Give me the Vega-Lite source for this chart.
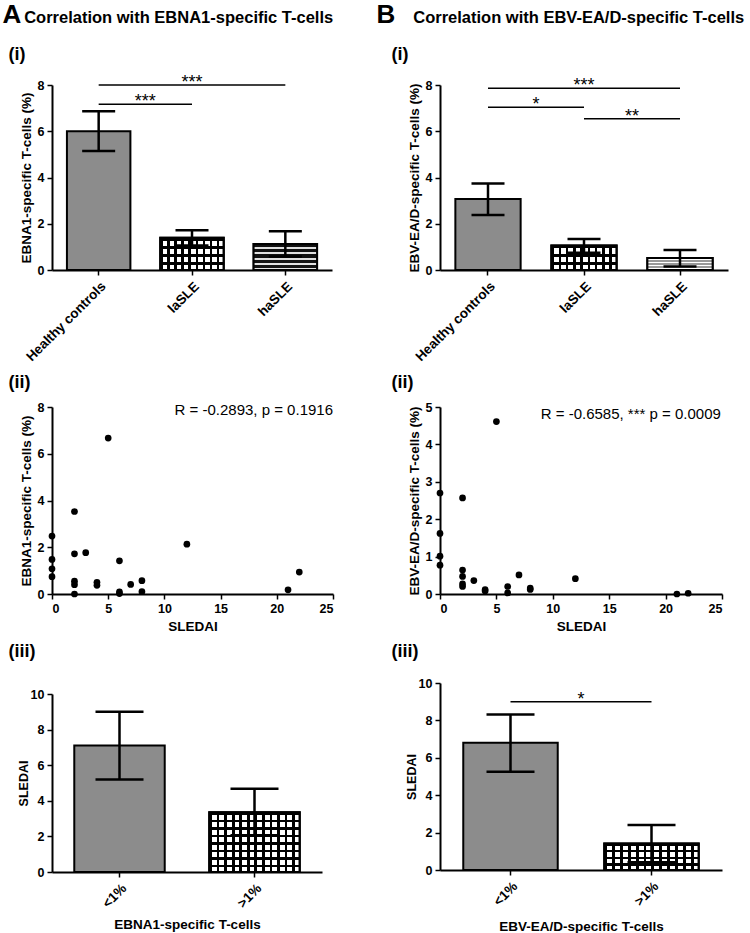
{
  "$schema": "https://vega.github.io/schema/vega-lite/v6.json",
  "background": "white",
  "padding": {"left": 2, "top": 2, "right": 2, "bottom": 0},
  "config": {
    "font": "Liberation Sans",
    "view": {"stroke": null},
    "axis": {"domainColor": "black", "domainWidth": 2, "tickColor": "black", "tickWidth": 1.5, "tickSize": 5, "labelFont": "Liberation Sans", "labelFontWeight": "bold", "labelFontSize": 12.5, "labelColor": "black", "labelPadding": 3, "labelOverlap": false, "titleFont": "Liberation Sans", "titleFontWeight": "bold", "titleFontSize": 13.5, "titleColor": "black", "titlePadding": 4, "grid": false},
    "title": {"font": "Liberation Sans", "fontWeight": "bold", "fontSize": 18, "anchor": "start", "color": "black"},
    "concat": {"spacing": 10}
  },
  "datasets": {
    "a1": [
      {"group": "Healthy controls", "mean": 6.0, "lo": 5.15, "hi": 6.86},
      {"group": "laSLE", "mean": 1.39, "lo": 1.06, "hi": 1.72},
      {"group": "haSLE", "mean": 1.12, "lo": 0.58, "hi": 1.68}
    ],
    "a1sig": [
      {"i1": 0, "i2": 2, "im": 1, "level": 8.0, "label": "***"},
      {"i1": 0, "i2": 1, "im": 0.5, "level": 7.17, "label": "***"}
    ],
    "b1": [
      {"group": "Healthy controls", "mean": 3.07, "lo": 2.38, "hi": 3.74},
      {"group": "laSLE", "mean": 1.06, "lo": 0.75, "hi": 1.34},
      {"group": "haSLE", "mean": 0.52, "lo": 0.15, "hi": 0.87}
    ],
    "b1sig": [
      {"i1": 0, "i2": 2, "im": 1, "level": 7.86, "label": "***"},
      {"i1": 0, "i2": 1, "im": 0.5, "level": 7.04, "label": "*"},
      {"i1": 1, "i2": 2, "im": 1.5, "level": 6.54, "label": "**"}
    ],
    "a2": [
      {"sledai": 0, "pct": 2.48}, {"sledai": 0, "pct": 1.48}, {"sledai": 0, "pct": 1.08}, {"sledai": 0, "pct": 0.74},
      {"sledai": 2, "pct": 3.53}, {"sledai": 2, "pct": 1.72}, {"sledai": 2, "pct": 0.55}, {"sledai": 2, "pct": 0.4}, {"sledai": 2, "pct": 0.0},
      {"sledai": 3, "pct": 1.77}, {"sledai": 4, "pct": 0.5}, {"sledai": 4, "pct": 0.37},
      {"sledai": 5, "pct": 6.67}, {"sledai": 6, "pct": 1.42}, {"sledai": 6, "pct": 0.09}, {"sledai": 6, "pct": 0.02},
      {"sledai": 7, "pct": 0.41}, {"sledai": 8, "pct": 0.57}, {"sledai": 8, "pct": 0.1},
      {"sledai": 12, "pct": 2.13}, {"sledai": 21, "pct": 0.18}, {"sledai": 22, "pct": 0.94}
    ],
    "a2note": [{"label": "R = -0.2893, p = 0.1916"}],
    "b2": [
      {"sledai": 0, "pct": 2.7}, {"sledai": 0, "pct": 1.62}, {"sledai": 0, "pct": 1.01}, {"sledai": 0, "pct": 0.77},
      {"sledai": 2, "pct": 2.57}, {"sledai": 2, "pct": 0.64}, {"sledai": 2, "pct": 0.47}, {"sledai": 2, "pct": 0.27}, {"sledai": 2, "pct": 0.2},
      {"sledai": 3, "pct": 0.36}, {"sledai": 4, "pct": 0.12}, {"sledai": 4, "pct": 0.08},
      {"sledai": 5, "pct": 4.61}, {"sledai": 6, "pct": 0.2}, {"sledai": 6, "pct": 0.03},
      {"sledai": 7, "pct": 0.51}, {"sledai": 8, "pct": 0.16}, {"sledai": 8, "pct": 0.12},
      {"sledai": 12, "pct": 0.41}, {"sledai": 21, "pct": 0.0}, {"sledai": 22, "pct": 0.02}
    ],
    "b2note": [{"label": "R = -0.6585, *** p = 0.0009"}],
    "a3": [
      {"group": "<1%", "mean": 7.1, "lo": 5.2, "hi": 9.0},
      {"group": ">1%", "mean": 3.36, "lo": 2.06, "hi": 4.67}
    ],
    "b3": [
      {"group": "<1%", "mean": 6.8, "lo": 5.25, "hi": 8.31},
      {"group": ">1%", "mean": 1.42, "lo": 0.42, "hi": 2.4}
    ],
    "b3sig": [
      {"i1": 0, "i2": 1, "im": 0.5, "level": 9.0, "label": "*"}
    ]
  },
  "hconcat": [
    {
      "title": {"text": "A", "fontSize": 26, "dx": -6, "offset": 18, "subtitle": "\u200b\u00a0\u00a0\u00a0\u00a0\u2009Correlation with EBNA1-specific T-cells", "subtitleFont": "Liberation Sans", "subtitleFontSize": 16.5, "subtitleFontWeight": "bold", "subtitleColor": "black", "subtitlePadding": -18},
      "vconcat": [
        {
          "title": {"text": "(i)", "dx": -10.5, "offset": 10},
          "width": 280, "height": 185,
          "layer": [
            {
              "data": {"name": "a1"},
              "layer": [
                {"mark": {"type": "bar", "stroke": "black", "strokeWidth": 2},
                 "encoding": {
                   "x": {"field": "group", "type": "nominal", "sort": null, "scale": {"domain": ["Healthy controls", "laSLE", "haSLE"], "paddingInner": 0.32, "paddingOuter": 0.16}, "axis": {"title": null, "labelAngle": -45, "labelFontSize": 13.5, "labelPadding": 4}},
                   "y": {"field": "mean", "type": "quantitative", "scale": {"domain": [0, 8], "nice": false}, "axis": {"title": "EBNA1-specific T-cells (%)", "values": [0, 2, 4, 6, 8], "tickCount": 12, "format": "d"}},
                   "fill": {"field": "group", "type": "nominal", "scale": {"domain": ["Healthy controls", "laSLE", "haSLE"], "range": ["#8c8c8c", "#ffffff", "#333333"]}, "legend": null}
                 }},
                {"transform": [{"filter": "datum.group === 'laSLE'"}],
                 "mark": {"type": "bar", "strokeWidth": 0, "fill": {"gradient": "linear", "x1": 0, "y1": 0, "x2": 1, "y2": 0, "stops": [
                   {"offset": 0, "color": "#000000"}, {"offset": 0.0389, "color": "#000000"}, {"offset": 0.0389, "color": "rgba(0,0,0,0)"}, {"offset": 0.1111, "color": "rgba(0,0,0,0)"},
                   {"offset": 0.1111, "color": "#000000"}, {"offset": 0.15, "color": "#000000"}, {"offset": 0.15, "color": "rgba(0,0,0,0)"}, {"offset": 0.2222, "color": "rgba(0,0,0,0)"},
                   {"offset": 0.2222, "color": "#000000"}, {"offset": 0.2611, "color": "#000000"}, {"offset": 0.2611, "color": "rgba(0,0,0,0)"}, {"offset": 0.3333, "color": "rgba(0,0,0,0)"},
                   {"offset": 0.3333, "color": "#000000"}, {"offset": 0.3722, "color": "#000000"}, {"offset": 0.3722, "color": "rgba(0,0,0,0)"}, {"offset": 0.4444, "color": "rgba(0,0,0,0)"},
                   {"offset": 0.4444, "color": "#000000"}, {"offset": 0.4833, "color": "#000000"}, {"offset": 0.4833, "color": "rgba(0,0,0,0)"}, {"offset": 0.5556, "color": "rgba(0,0,0,0)"},
                   {"offset": 0.5556, "color": "#000000"}, {"offset": 0.5944, "color": "#000000"}, {"offset": 0.5944, "color": "rgba(0,0,0,0)"}, {"offset": 0.6667, "color": "rgba(0,0,0,0)"},
                   {"offset": 0.6667, "color": "#000000"}, {"offset": 0.7056, "color": "#000000"}, {"offset": 0.7056, "color": "rgba(0,0,0,0)"}, {"offset": 0.7778, "color": "rgba(0,0,0,0)"},
                   {"offset": 0.7778, "color": "#000000"}, {"offset": 0.8167, "color": "#000000"}, {"offset": 0.8167, "color": "rgba(0,0,0,0)"}, {"offset": 0.8889, "color": "rgba(0,0,0,0)"},
                   {"offset": 0.8889, "color": "#000000"}, {"offset": 0.9278, "color": "#000000"}, {"offset": 0.9278, "color": "rgba(0,0,0,0)"}, {"offset": 1, "color": "rgba(0,0,0,0)"}]}},
                 "encoding": {"x": {"field": "group", "type": "nominal", "sort": null}, "y": {"field": "mean", "type": "quantitative"}}},
                {"transform": [{"filter": "datum.group === 'laSLE'"}],
                 "mark": {"type": "bar", "stroke": "black", "strokeWidth": 2, "fill": {"gradient": "linear", "x1": 0, "y1": 0, "x2": 0, "y2": 1, "stops": [
                   {"offset": 0, "color": "#000000"}, {"offset": 0.0875, "color": "#000000"}, {"offset": 0.0875, "color": "rgba(0,0,0,0)"}, {"offset": 0.25, "color": "rgba(0,0,0,0)"},
                   {"offset": 0.25, "color": "#000000"}, {"offset": 0.3375, "color": "#000000"}, {"offset": 0.3375, "color": "rgba(0,0,0,0)"}, {"offset": 0.5, "color": "rgba(0,0,0,0)"},
                   {"offset": 0.5, "color": "#000000"}, {"offset": 0.5875, "color": "#000000"}, {"offset": 0.5875, "color": "rgba(0,0,0,0)"}, {"offset": 0.75, "color": "rgba(0,0,0,0)"},
                   {"offset": 0.75, "color": "#000000"}, {"offset": 0.8375, "color": "#000000"}, {"offset": 0.8375, "color": "rgba(0,0,0,0)"}, {"offset": 1, "color": "rgba(0,0,0,0)"}]}},
                 "encoding": {"x": {"field": "group", "type": "nominal", "sort": null}, "y": {"field": "mean", "type": "quantitative"}}},
                {"transform": [{"filter": "datum.group === 'haSLE'"}],
                 "mark": {"type": "bar", "stroke": "black", "strokeWidth": 2, "fill": {"gradient": "linear", "x1": 0, "y1": 0, "x2": 0, "y2": 1, "stops": [
                   {"offset": 0, "color": "#111111"}, {"offset": 0.12, "color": "#111111"}, {"offset": 0.12, "color": "#e0e0e0"}, {"offset": 0.2, "color": "#e0e0e0"},
                   {"offset": 0.2, "color": "#111111"}, {"offset": 0.32, "color": "#111111"}, {"offset": 0.32, "color": "#e0e0e0"}, {"offset": 0.4, "color": "#e0e0e0"},
                   {"offset": 0.4, "color": "#111111"}, {"offset": 0.52, "color": "#111111"}, {"offset": 0.52, "color": "#e0e0e0"}, {"offset": 0.6, "color": "#e0e0e0"},
                   {"offset": 0.6, "color": "#111111"}, {"offset": 0.72, "color": "#111111"}, {"offset": 0.72, "color": "#e0e0e0"}, {"offset": 0.8, "color": "#e0e0e0"},
                   {"offset": 0.8, "color": "#111111"}, {"offset": 0.92, "color": "#111111"}, {"offset": 0.92, "color": "#e0e0e0"}, {"offset": 1, "color": "#e0e0e0"}]}},
                 "encoding": {"x": {"field": "group", "type": "nominal", "sort": null}, "y": {"field": "mean", "type": "quantitative"}}},
                {"mark": {"type": "rule", "strokeWidth": 2.5, "color": "black"},
                 "encoding": {"x": {"field": "group", "type": "nominal", "sort": null}, "y": {"field": "lo", "type": "quantitative"}, "y2": {"field": "hi"}}},
                {"mark": {"type": "tick", "thickness": 2.5, "size": 33, "color": "black", "opacity": 1},
                 "encoding": {"x": {"field": "group", "type": "nominal", "sort": null}, "y": {"field": "hi", "type": "quantitative"}}},
                {"mark": {"type": "tick", "thickness": 2.5, "size": 33, "color": "black", "opacity": 1},
                 "encoding": {"x": {"field": "group", "type": "nominal", "sort": null}, "y": {"field": "lo", "type": "quantitative"}}}
              ]
            },
            {
              "data": {"name": "a1sig"},
              "layer": [
                {"mark": {"type": "rule", "strokeWidth": 1.5, "color": "black"},
                 "encoding": {"x": {"field": "i1", "type": "quantitative", "scale": {"domain": [-0.5, 2.5], "nice": false, "zero": false}, "axis": null}, "x2": {"field": "i2"}, "y": {"field": "level", "type": "quantitative"}}},
                {"mark": {"type": "text", "fontSize": 18, "baseline": "alphabetic", "dy": 3, "fill": "black"},
                 "encoding": {"x": {"field": "im", "type": "quantitative"}, "y": {"field": "level", "type": "quantitative"}, "text": {"field": "label"}}}
              ]
            }
          ],
          "resolve": {"scale": {"x": "independent"}}
        },
        {
          "title": {"text": "(ii)", "dx": -10.5, "offset": 9},
          "width": 281, "height": 187,
          "layer": [
            {"data": {"name": "a2"},
             "mark": {"type": "point", "filled": true, "size": 45, "color": "black", "opacity": 1},
             "encoding": {
               "x": {"field": "sledai", "type": "quantitative", "scale": {"domain": [0, 25], "nice": false}, "axis": {"title": "SLEDAI", "values": [0, 5, 10, 15, 20, 25], "tickCount": 12, "format": "d", "titlePadding": 5}},
               "y": {"field": "pct", "type": "quantitative", "scale": {"domain": [0, 8], "nice": false}, "axis": {"title": "EBNA1-specific T-cells (%)", "values": [0, 2, 4, 6, 8], "tickCount": 12, "format": "d"}}
             }},
            {"data": {"name": "a2note"},
             "mark": {"type": "text", "fontSize": 15, "fontWeight": "normal", "align": "right", "baseline": "alphabetic", "fill": "black"},
             "encoding": {"x": {"datum": 25}, "y": {"datum": 7.65}, "text": {"field": "label"}}}
          ]
        },
        {
          "title": {"text": "(iii)", "dx": -8.5, "offset": 27},
          "width": 270, "height": 178,
          "data": {"name": "a3"},
          "layer": [
            {"mark": {"type": "bar", "stroke": "black", "strokeWidth": 2},
             "encoding": {
               "x": {"field": "group", "type": "nominal", "sort": null, "scale": {"domain": ["<1%", ">1%"], "paddingInner": 0.33, "paddingOuter": 0.165}, "axis": {"title": "EBNA1-specific T-cells", "labelAngle": -45, "labelFontSize": 13.5, "labelPadding": 4, "titlePadding": 8}},
               "y": {"field": "mean", "type": "quantitative", "scale": {"domain": [0, 10], "nice": false}, "axis": {"title": "SLEDAI", "titleFontSize": 12.5, "values": [0, 2, 4, 6, 8, 10], "tickCount": 12, "format": "d", "titlePadding": 0}},
               "fill": {"field": "group", "type": "nominal", "scale": {"domain": ["<1%", ">1%"], "range": ["#8c8c8c", "#ffffff"]}, "legend": null}
             }},
            {"transform": [{"filter": "datum.group === '>1%'"}],
             "mark": {"type": "bar", "strokeWidth": 0, "fill": {"gradient": "linear", "x1": 0, "y1": 0, "x2": 1, "y2": 0, "stops": [
               {"offset": 0, "color": "#000000"}, {"offset": 0.029, "color": "#000000"}, {"offset": 0.029, "color": "rgba(0,0,0,0)"}, {"offset": 0.0833, "color": "rgba(0,0,0,0)"},
               {"offset": 0.0833, "color": "#000000"}, {"offset": 0.1125, "color": "#000000"}, {"offset": 0.1125, "color": "rgba(0,0,0,0)"}, {"offset": 0.1667, "color": "rgba(0,0,0,0)"},
               {"offset": 0.1667, "color": "#000000"}, {"offset": 0.1958, "color": "#000000"}, {"offset": 0.1958, "color": "rgba(0,0,0,0)"}, {"offset": 0.25, "color": "rgba(0,0,0,0)"},
               {"offset": 0.25, "color": "#000000"}, {"offset": 0.2792, "color": "#000000"}, {"offset": 0.2792, "color": "rgba(0,0,0,0)"}, {"offset": 0.3333, "color": "rgba(0,0,0,0)"},
               {"offset": 0.3333, "color": "#000000"}, {"offset": 0.3625, "color": "#000000"}, {"offset": 0.3625, "color": "rgba(0,0,0,0)"}, {"offset": 0.4167, "color": "rgba(0,0,0,0)"},
               {"offset": 0.4167, "color": "#000000"}, {"offset": 0.4458, "color": "#000000"}, {"offset": 0.4458, "color": "rgba(0,0,0,0)"}, {"offset": 0.5, "color": "rgba(0,0,0,0)"},
               {"offset": 0.5, "color": "#000000"}, {"offset": 0.5292, "color": "#000000"}, {"offset": 0.5292, "color": "rgba(0,0,0,0)"}, {"offset": 0.5833, "color": "rgba(0,0,0,0)"},
               {"offset": 0.5833, "color": "#000000"}, {"offset": 0.6125, "color": "#000000"}, {"offset": 0.6125, "color": "rgba(0,0,0,0)"}, {"offset": 0.6667, "color": "rgba(0,0,0,0)"},
               {"offset": 0.6667, "color": "#000000"}, {"offset": 0.6958, "color": "#000000"}, {"offset": 0.6958, "color": "rgba(0,0,0,0)"}, {"offset": 0.75, "color": "rgba(0,0,0,0)"},
               {"offset": 0.75, "color": "#000000"}, {"offset": 0.7792, "color": "#000000"}, {"offset": 0.7792, "color": "rgba(0,0,0,0)"}, {"offset": 0.8333, "color": "rgba(0,0,0,0)"},
               {"offset": 0.8333, "color": "#000000"}, {"offset": 0.8625, "color": "#000000"}, {"offset": 0.8625, "color": "rgba(0,0,0,0)"}, {"offset": 0.9167, "color": "rgba(0,0,0,0)"},
               {"offset": 0.9167, "color": "#000000"}, {"offset": 0.9458, "color": "#000000"}, {"offset": 0.9458, "color": "rgba(0,0,0,0)"}, {"offset": 1, "color": "rgba(0,0,0,0)"}]}},
             "encoding": {"x": {"field": "group", "type": "nominal", "sort": null}, "y": {"field": "mean", "type": "quantitative"}}},
            {"transform": [{"filter": "datum.group === '>1%'"}],
             "mark": {"type": "bar", "stroke": "black", "strokeWidth": 2, "fill": {"gradient": "linear", "x1": 0, "y1": 0, "x2": 0, "y2": 1, "stops": [
               {"offset": 0, "color": "#000000"}, {"offset": 0.044, "color": "#000000"}, {"offset": 0.044, "color": "rgba(0,0,0,0)"}, {"offset": 0.125, "color": "rgba(0,0,0,0)"},
               {"offset": 0.125, "color": "#000000"}, {"offset": 0.169, "color": "#000000"}, {"offset": 0.169, "color": "rgba(0,0,0,0)"}, {"offset": 0.25, "color": "rgba(0,0,0,0)"},
               {"offset": 0.25, "color": "#000000"}, {"offset": 0.294, "color": "#000000"}, {"offset": 0.294, "color": "rgba(0,0,0,0)"}, {"offset": 0.375, "color": "rgba(0,0,0,0)"},
               {"offset": 0.375, "color": "#000000"}, {"offset": 0.419, "color": "#000000"}, {"offset": 0.419, "color": "rgba(0,0,0,0)"}, {"offset": 0.5, "color": "rgba(0,0,0,0)"},
               {"offset": 0.5, "color": "#000000"}, {"offset": 0.544, "color": "#000000"}, {"offset": 0.544, "color": "rgba(0,0,0,0)"}, {"offset": 0.625, "color": "rgba(0,0,0,0)"},
               {"offset": 0.625, "color": "#000000"}, {"offset": 0.669, "color": "#000000"}, {"offset": 0.669, "color": "rgba(0,0,0,0)"}, {"offset": 0.75, "color": "rgba(0,0,0,0)"},
               {"offset": 0.75, "color": "#000000"}, {"offset": 0.794, "color": "#000000"}, {"offset": 0.794, "color": "rgba(0,0,0,0)"}, {"offset": 0.875, "color": "rgba(0,0,0,0)"},
               {"offset": 0.875, "color": "#000000"}, {"offset": 0.919, "color": "#000000"}, {"offset": 0.919, "color": "rgba(0,0,0,0)"}, {"offset": 1, "color": "rgba(0,0,0,0)"}]}},
             "encoding": {"x": {"field": "group", "type": "nominal", "sort": null}, "y": {"field": "mean", "type": "quantitative"}}},
            {"mark": {"type": "rule", "strokeWidth": 2.5, "color": "black"},
             "encoding": {"x": {"field": "group", "type": "nominal", "sort": null}, "y": {"field": "lo", "type": "quantitative"}, "y2": {"field": "hi"}}},
            {"mark": {"type": "tick", "thickness": 2.5, "size": 48, "color": "black", "opacity": 1},
             "encoding": {"x": {"field": "group", "type": "nominal", "sort": null}, "y": {"field": "hi", "type": "quantitative"}}},
            {"mark": {"type": "tick", "thickness": 2.5, "size": 48, "color": "black", "opacity": 1},
             "encoding": {"x": {"field": "group", "type": "nominal", "sort": null}, "y": {"field": "lo", "type": "quantitative"}}}
          ]
        }
      ]
    },
    {
      "title": {"text": "B", "fontSize": 26, "dx": -15, "offset": 18, "subtitle": "\u200b\u00a0\u00a0\u00a0\u00a0\u00a0\u00a0\u00a0\u00a0Correlation with EBV-EA/D-specific T-cells", "subtitleFont": "Liberation Sans", "subtitleFontSize": 16.5, "subtitleFontWeight": "bold", "subtitleColor": "black", "subtitlePadding": -18},
      "vconcat": [
        {
          "title": {"text": "(i)", "dx": -15.5, "offset": 13},
          "width": 288, "height": 185,
          "layer": [
            {
              "data": {"name": "b1"},
              "layer": [
                {"mark": {"type": "bar", "stroke": "black", "strokeWidth": 2},
                 "encoding": {
                   "x": {"field": "group", "type": "nominal", "sort": null, "scale": {"domain": ["Healthy controls", "laSLE", "haSLE"], "paddingInner": 0.32, "paddingOuter": 0.16}, "axis": {"title": null, "labelAngle": -45, "labelFontSize": 13.5, "labelPadding": 4}},
                   "y": {"field": "mean", "type": "quantitative", "scale": {"domain": [0, 8], "nice": false}, "axis": {"title": "EBV-EA/D-specific T-cells (%)", "values": [0, 2, 4, 6, 8], "tickCount": 12, "format": "d"}},
                   "fill": {"field": "group", "type": "nominal", "scale": {"domain": ["Healthy controls", "laSLE", "haSLE"], "range": ["#8c8c8c", "#ffffff", "#f2f2f2"]}, "legend": null}
                 }},
                {"transform": [{"filter": "datum.group === 'laSLE'"}],
                 "mark": {"type": "bar", "strokeWidth": 0, "fill": {"gradient": "linear", "x1": 0, "y1": 0, "x2": 1, "y2": 0, "stops": [
                   {"offset": 0, "color": "#000000"}, {"offset": 0.0389, "color": "#000000"}, {"offset": 0.0389, "color": "rgba(0,0,0,0)"}, {"offset": 0.1111, "color": "rgba(0,0,0,0)"},
                   {"offset": 0.1111, "color": "#000000"}, {"offset": 0.15, "color": "#000000"}, {"offset": 0.15, "color": "rgba(0,0,0,0)"}, {"offset": 0.2222, "color": "rgba(0,0,0,0)"},
                   {"offset": 0.2222, "color": "#000000"}, {"offset": 0.2611, "color": "#000000"}, {"offset": 0.2611, "color": "rgba(0,0,0,0)"}, {"offset": 0.3333, "color": "rgba(0,0,0,0)"},
                   {"offset": 0.3333, "color": "#000000"}, {"offset": 0.3722, "color": "#000000"}, {"offset": 0.3722, "color": "rgba(0,0,0,0)"}, {"offset": 0.4444, "color": "rgba(0,0,0,0)"},
                   {"offset": 0.4444, "color": "#000000"}, {"offset": 0.4833, "color": "#000000"}, {"offset": 0.4833, "color": "rgba(0,0,0,0)"}, {"offset": 0.5556, "color": "rgba(0,0,0,0)"},
                   {"offset": 0.5556, "color": "#000000"}, {"offset": 0.5944, "color": "#000000"}, {"offset": 0.5944, "color": "rgba(0,0,0,0)"}, {"offset": 0.6667, "color": "rgba(0,0,0,0)"},
                   {"offset": 0.6667, "color": "#000000"}, {"offset": 0.7056, "color": "#000000"}, {"offset": 0.7056, "color": "rgba(0,0,0,0)"}, {"offset": 0.7778, "color": "rgba(0,0,0,0)"},
                   {"offset": 0.7778, "color": "#000000"}, {"offset": 0.8167, "color": "#000000"}, {"offset": 0.8167, "color": "rgba(0,0,0,0)"}, {"offset": 0.8889, "color": "rgba(0,0,0,0)"},
                   {"offset": 0.8889, "color": "#000000"}, {"offset": 0.9278, "color": "#000000"}, {"offset": 0.9278, "color": "rgba(0,0,0,0)"}, {"offset": 1, "color": "rgba(0,0,0,0)"}]}},
                 "encoding": {"x": {"field": "group", "type": "nominal", "sort": null}, "y": {"field": "mean", "type": "quantitative"}}},
                {"transform": [{"filter": "datum.group === 'laSLE'"}],
                 "mark": {"type": "bar", "stroke": "black", "strokeWidth": 2, "fill": {"gradient": "linear", "x1": 0, "y1": 0, "x2": 0, "y2": 1, "stops": [
                   {"offset": 0, "color": "#000000"}, {"offset": 0.1167, "color": "#000000"}, {"offset": 0.1167, "color": "rgba(0,0,0,0)"}, {"offset": 0.3333, "color": "rgba(0,0,0,0)"},
                   {"offset": 0.3333, "color": "#000000"}, {"offset": 0.45, "color": "#000000"}, {"offset": 0.45, "color": "rgba(0,0,0,0)"}, {"offset": 0.6667, "color": "rgba(0,0,0,0)"},
                   {"offset": 0.6667, "color": "#000000"}, {"offset": 0.7833, "color": "#000000"}, {"offset": 0.7833, "color": "rgba(0,0,0,0)"}, {"offset": 1, "color": "rgba(0,0,0,0)"}]}},
                 "encoding": {"x": {"field": "group", "type": "nominal", "sort": null}, "y": {"field": "mean", "type": "quantitative"}}},
                {"transform": [{"filter": "datum.group === 'haSLE'"}],
                 "mark": {"type": "bar", "stroke": "black", "strokeWidth": 2, "fill": {"gradient": "linear", "x1": 0, "y1": 0, "x2": 0, "y2": 1, "stops": [
                   {"offset": 0, "color": "#ffffff"}, {"offset": 0.2, "color": "#ffffff"}, {"offset": 0.2, "color": "#9a9a9a"}, {"offset": 0.3, "color": "#9a9a9a"},
                   {"offset": 0.3, "color": "#ffffff"}, {"offset": 0.45, "color": "#ffffff"}, {"offset": 0.45, "color": "#9a9a9a"}, {"offset": 0.55, "color": "#9a9a9a"},
                   {"offset": 0.55, "color": "#ffffff"}, {"offset": 0.7, "color": "#ffffff"}, {"offset": 0.7, "color": "#9a9a9a"}, {"offset": 0.8, "color": "#9a9a9a"},
                   {"offset": 0.8, "color": "#ffffff"}, {"offset": 1, "color": "#ffffff"}]}},
                 "encoding": {"x": {"field": "group", "type": "nominal", "sort": null}, "y": {"field": "mean", "type": "quantitative"}}},
                {"mark": {"type": "rule", "strokeWidth": 2.5, "color": "black"},
                 "encoding": {"x": {"field": "group", "type": "nominal", "sort": null}, "y": {"field": "lo", "type": "quantitative"}, "y2": {"field": "hi"}}},
                {"mark": {"type": "tick", "thickness": 2.5, "size": 33, "color": "black", "opacity": 1},
                 "encoding": {"x": {"field": "group", "type": "nominal", "sort": null}, "y": {"field": "hi", "type": "quantitative"}}},
                {"mark": {"type": "tick", "thickness": 2.5, "size": 33, "color": "black", "opacity": 1},
                 "encoding": {"x": {"field": "group", "type": "nominal", "sort": null}, "y": {"field": "lo", "type": "quantitative"}}}
              ]
            },
            {
              "data": {"name": "b1sig"},
              "layer": [
                {"mark": {"type": "rule", "strokeWidth": 1.5, "color": "black"},
                 "encoding": {"x": {"field": "i1", "type": "quantitative", "scale": {"domain": [-0.5, 2.5], "nice": false, "zero": false}, "axis": null}, "x2": {"field": "i2"}, "y": {"field": "level", "type": "quantitative"}}},
                {"mark": {"type": "text", "fontSize": 18, "baseline": "alphabetic", "dy": 3, "fill": "black"},
                 "encoding": {"x": {"field": "im", "type": "quantitative"}, "y": {"field": "level", "type": "quantitative"}, "text": {"field": "label"}}}
              ]
            }
          ],
          "resolve": {"scale": {"x": "independent"}}
        },
        {
          "title": {"text": "(ii)", "dx": -15.5, "offset": 9},
          "width": 282, "height": 187,
          "layer": [
            {"data": {"name": "b2"},
             "mark": {"type": "point", "filled": true, "size": 45, "color": "black", "opacity": 1},
             "encoding": {
               "x": {"field": "sledai", "type": "quantitative", "scale": {"domain": [0, 25], "nice": false}, "axis": {"title": "SLEDAI", "values": [0, 5, 10, 15, 20, 25], "tickCount": 12, "format": "d", "titlePadding": 5}},
               "y": {"field": "pct", "type": "quantitative", "scale": {"domain": [0, 5], "nice": false}, "axis": {"title": "EBV-EA/D-specific T-cells (%)", "values": [0, 1, 2, 3, 4, 5], "tickCount": 12, "format": "d"}}
             }},
            {"data": {"name": "b2note"},
             "mark": {"type": "text", "fontSize": 15, "fontWeight": "normal", "align": "right", "baseline": "alphabetic", "fill": "black"},
             "encoding": {"x": {"datum": 24.9}, "y": {"datum": 4.68}, "text": {"field": "label"}}}
          ]
        },
        {
          "title": {"text": "(iii)", "dx": -13.5, "offset": 16},
          "width": 282, "height": 187,
          "layer": [
            {
              "data": {"name": "b3"},
              "layer": [
                {"mark": {"type": "bar", "stroke": "black", "strokeWidth": 2},
                 "encoding": {
                   "x": {"field": "group", "type": "nominal", "sort": null, "scale": {"domain": ["<1%", ">1%"], "paddingInner": 0.33, "paddingOuter": 0.165}, "axis": {"title": "EBV-EA/D-specific T-cells", "labelAngle": -45, "labelFontSize": 13.5, "labelPadding": 4, "titlePadding": 12}},
                   "y": {"field": "mean", "type": "quantitative", "scale": {"domain": [0, 10], "nice": false}, "axis": {"title": "SLEDAI", "titleFontSize": 12.5, "values": [0, 2, 4, 6, 8, 10], "tickCount": 12, "format": "d", "titlePadding": 0}},
                   "fill": {"field": "group", "type": "nominal", "scale": {"domain": ["<1%", ">1%"], "range": ["#8c8c8c", "#ffffff"]}, "legend": null}
                 }},
                {"transform": [{"filter": "datum.group === '>1%'"}],
                 "mark": {"type": "bar", "strokeWidth": 0, "fill": {"gradient": "linear", "x1": 0, "y1": 0, "x2": 1, "y2": 0, "stops": [
                   {"offset": 0, "color": "#000000"}, {"offset": 0.029, "color": "#000000"}, {"offset": 0.029, "color": "rgba(0,0,0,0)"}, {"offset": 0.0833, "color": "rgba(0,0,0,0)"},
                   {"offset": 0.0833, "color": "#000000"}, {"offset": 0.1125, "color": "#000000"}, {"offset": 0.1125, "color": "rgba(0,0,0,0)"}, {"offset": 0.1667, "color": "rgba(0,0,0,0)"},
                   {"offset": 0.1667, "color": "#000000"}, {"offset": 0.1958, "color": "#000000"}, {"offset": 0.1958, "color": "rgba(0,0,0,0)"}, {"offset": 0.25, "color": "rgba(0,0,0,0)"},
                   {"offset": 0.25, "color": "#000000"}, {"offset": 0.2792, "color": "#000000"}, {"offset": 0.2792, "color": "rgba(0,0,0,0)"}, {"offset": 0.3333, "color": "rgba(0,0,0,0)"},
                   {"offset": 0.3333, "color": "#000000"}, {"offset": 0.3625, "color": "#000000"}, {"offset": 0.3625, "color": "rgba(0,0,0,0)"}, {"offset": 0.4167, "color": "rgba(0,0,0,0)"},
                   {"offset": 0.4167, "color": "#000000"}, {"offset": 0.4458, "color": "#000000"}, {"offset": 0.4458, "color": "rgba(0,0,0,0)"}, {"offset": 0.5, "color": "rgba(0,0,0,0)"},
                   {"offset": 0.5, "color": "#000000"}, {"offset": 0.5292, "color": "#000000"}, {"offset": 0.5292, "color": "rgba(0,0,0,0)"}, {"offset": 0.5833, "color": "rgba(0,0,0,0)"},
                   {"offset": 0.5833, "color": "#000000"}, {"offset": 0.6125, "color": "#000000"}, {"offset": 0.6125, "color": "rgba(0,0,0,0)"}, {"offset": 0.6667, "color": "rgba(0,0,0,0)"},
                   {"offset": 0.6667, "color": "#000000"}, {"offset": 0.6958, "color": "#000000"}, {"offset": 0.6958, "color": "rgba(0,0,0,0)"}, {"offset": 0.75, "color": "rgba(0,0,0,0)"},
                   {"offset": 0.75, "color": "#000000"}, {"offset": 0.7792, "color": "#000000"}, {"offset": 0.7792, "color": "rgba(0,0,0,0)"}, {"offset": 0.8333, "color": "rgba(0,0,0,0)"},
                   {"offset": 0.8333, "color": "#000000"}, {"offset": 0.8625, "color": "#000000"}, {"offset": 0.8625, "color": "rgba(0,0,0,0)"}, {"offset": 0.9167, "color": "rgba(0,0,0,0)"},
                   {"offset": 0.9167, "color": "#000000"}, {"offset": 0.9458, "color": "#000000"}, {"offset": 0.9458, "color": "rgba(0,0,0,0)"}, {"offset": 1, "color": "rgba(0,0,0,0)"}]}},
                 "encoding": {"x": {"field": "group", "type": "nominal", "sort": null}, "y": {"field": "mean", "type": "quantitative"}}},
                {"transform": [{"filter": "datum.group === '>1%'"}],
                 "mark": {"type": "bar", "stroke": "black", "strokeWidth": 2, "fill": {"gradient": "linear", "x1": 0, "y1": 0, "x2": 0, "y2": 1, "stops": [
                   {"offset": 0, "color": "#000000"}, {"offset": 0.0875, "color": "#000000"}, {"offset": 0.0875, "color": "rgba(0,0,0,0)"}, {"offset": 0.25, "color": "rgba(0,0,0,0)"},
                   {"offset": 0.25, "color": "#000000"}, {"offset": 0.3375, "color": "#000000"}, {"offset": 0.3375, "color": "rgba(0,0,0,0)"}, {"offset": 0.5, "color": "rgba(0,0,0,0)"},
                   {"offset": 0.5, "color": "#000000"}, {"offset": 0.5875, "color": "#000000"}, {"offset": 0.5875, "color": "rgba(0,0,0,0)"}, {"offset": 0.75, "color": "rgba(0,0,0,0)"},
                   {"offset": 0.75, "color": "#000000"}, {"offset": 0.8375, "color": "#000000"}, {"offset": 0.8375, "color": "rgba(0,0,0,0)"}, {"offset": 1, "color": "rgba(0,0,0,0)"}]}},
                 "encoding": {"x": {"field": "group", "type": "nominal", "sort": null}, "y": {"field": "mean", "type": "quantitative"}}},
                {"mark": {"type": "rule", "strokeWidth": 2.5, "color": "black"},
                 "encoding": {"x": {"field": "group", "type": "nominal", "sort": null}, "y": {"field": "lo", "type": "quantitative"}, "y2": {"field": "hi"}}},
                {"mark": {"type": "tick", "thickness": 2.5, "size": 48, "color": "black", "opacity": 1},
                 "encoding": {"x": {"field": "group", "type": "nominal", "sort": null}, "y": {"field": "hi", "type": "quantitative"}}},
                {"mark": {"type": "tick", "thickness": 2.5, "size": 48, "color": "black", "opacity": 1},
                 "encoding": {"x": {"field": "group", "type": "nominal", "sort": null}, "y": {"field": "lo", "type": "quantitative"}}}
              ]
            },
            {
              "data": {"name": "b3sig"},
              "layer": [
                {"mark": {"type": "rule", "strokeWidth": 1.5, "color": "black"},
                 "encoding": {"x": {"field": "i1", "type": "quantitative", "scale": {"domain": [-0.5, 1.5], "nice": false, "zero": false}, "axis": null}, "x2": {"field": "i2"}, "y": {"field": "level", "type": "quantitative"}}},
                {"mark": {"type": "text", "fontSize": 18, "baseline": "alphabetic", "dy": 3, "fill": "black"},
                 "encoding": {"x": {"field": "im", "type": "quantitative"}, "y": {"field": "level", "type": "quantitative"}, "text": {"field": "label"}}}
              ]
            }
          ],
          "resolve": {"scale": {"x": "independent"}}
        }
      ]
    }
  ],
  "spacing": 42
}
